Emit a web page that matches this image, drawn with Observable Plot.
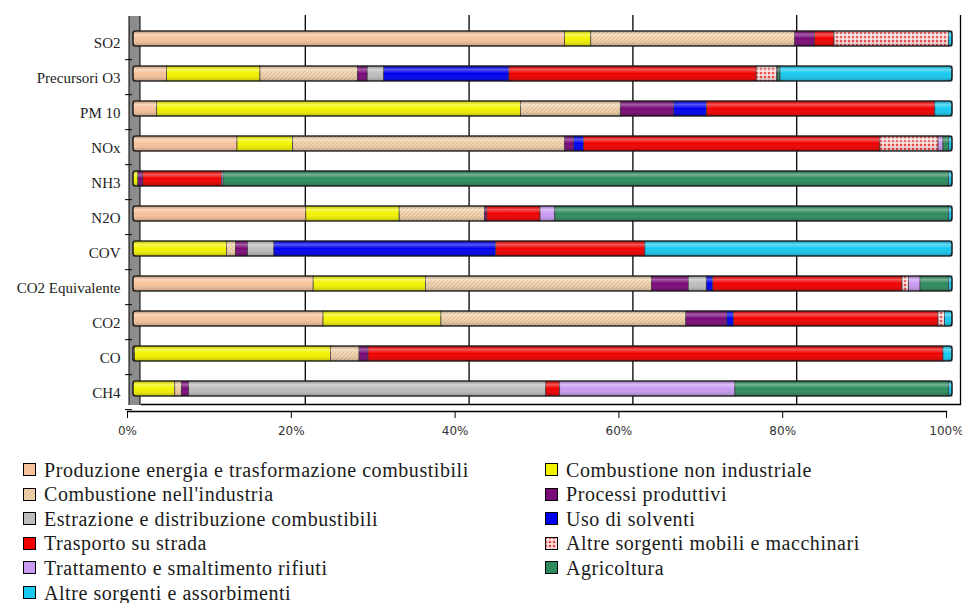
<!DOCTYPE html>
<html><head><meta charset="utf-8">
<script src="https://cdn.jsdelivr.net/npm/d3@7"></script>
<script src="https://cdn.jsdelivr.net/npm/@observablehq/plot@0.6"></script>
<style>
body{margin:0;background:#fff;}
#chart{height:445px;}
#legend{position:relative;height:158px;font-family:"Liberation Serif",serif;font-size:20px;letter-spacing:0.55px;color:#1a1a1a}
.item{position:absolute;display:flex;align-items:center;white-space:nowrap;transform:translateY(-50%);line-height:22px}
.item svg{margin-right:7px}
</style></head><body>
<svg style="position:absolute;width:0;height:0" aria-hidden="true">
<defs>
<pattern id="patInd" width="4" height="4" patternUnits="userSpaceOnUse">
<rect width="4" height="4" fill="#F0D2AC"/>
<path d="M0,4 L4,0" stroke="#D7B48A" stroke-width="0.8"/>
</pattern>
<pattern id="patMob" width="4" height="4" patternUnits="userSpaceOnUse">
<rect width="4" height="4" fill="#F7C6C6"/>
<rect width="2" height="2" fill="#E84848"/>
<rect x="2" y="2" width="2" height="2" fill="#FBE2E2"/>
</pattern>
<linearGradient id="shade" x1="0" y1="0" x2="0" y2="1">
<stop offset="0" stop-color="#000" stop-opacity="0.12"/>
<stop offset="0.22" stop-color="#fff" stop-opacity="0.35"/>
<stop offset="0.5" stop-color="#fff" stop-opacity="0"/>
<stop offset="1" stop-color="#000" stop-opacity="0.22"/>
</linearGradient>
</defs>
</svg>
<div id="chart"></div><div id="legend"></div>
<script>
const categories = ["SO2","Precursori O3","PM 10","NOx","NH3","N2O","COV","CO2 Equivalente","CO2","CO","CH4"];
const sourceNames = [
  "Produzione energia e trasformazione combustibili",
  "Combustione non industriale",
  "Combustione nell'industria",
  "Processi produttivi",
  "Estrazione e distribuzione combustibili",
  "Uso di solventi",
  "Trasporto su strada",
  "Altre sorgenti mobili e macchinari",
  "Trattamento e smaltimento rifiuti",
  "Agricoltura",
  "Altre sorgenti e assorbimenti"
];
const sourceFills = ["#F6C29B","#F2F200","url(#patInd)","#7A0A78","#BDBDBD","#0000F0","#F00000","url(#patMob)","#C99BF2","#2E8B5E","#18C8F0"];
const produzioneEnergia        = [52.7, 4.1, 2.9, 12.7, 0,    21.1, 0,    22.0, 23.2, 0.2,  0];
const combustioneNonIndustriale= [3.2, 11.4, 44.4, 6.8, 0.6,  11.4, 11.4, 13.7, 14.4, 23.9, 5.1];
const combustioneIndustria     = [24.9,11.9, 12.2, 33.2, 0,   10.4, 1.1,  27.6, 29.9, 3.5,  0.8];
const processiProduttivi       = [2.4, 1.2,  6.5,  1.1, 0.6,  0.3,  1.5,  4.5,  5.0,  1.1,  0.9];
const estrazioneDistribuzione  = [0,   2.0,  0,    0,   0,    0,    3.2,  2.2,  0,    0,    43.6];
const usoSolventi              = [0,   15.3, 4.0,  1.2, 0,    0,    27.1, 0.8,  0.8,  0,    0];
const trasportoStrada          = [2.4, 30.2, 27.9, 36.2, 9.6, 6.5,  18.2, 23.1, 25.0, 70.2, 1.7];
const altreSorgentiMobili      = [14.0, 2.5, 0,    7.1, 0,    0,    0,    0.8,  0.8,  0,    0];
const trattamentoRifiuti       = [0,   0.1,  0,    0.6, 0.2,  1.8,  0,    1.4,  0,    0,    21.4];
const agricoltura              = [0,   0.3,  0,    0.7, 88.6, 48.1, 0,    3.5,  0,    0,    26.1];
const altreSorgenti            = [0.4, 21.0, 2.1,  0.4, 0.4,  0.4,  37.5, 0.4,  0.9,  1.1,  0.4];
const xTicks = [0, 0.2, 0.4, 0.6, 0.8, 1];

const seriesValues = [produzioneEnergia, combustioneNonIndustriale, combustioneIndustria, processiProduttivi,
  estrazioneDistribuzione, usoSolventi, trasportoStrada, altreSorgentiMobili, trattamentoRifiuti, agricoltura, altreSorgenti];

const rows = seriesValues.flatMap((vals, i) => categories.map((c, j) => ({
  category: c, source: sourceNames[i], value: vals[j], fill: sourceFills[i]
})));

const chart = Plot.plot({
  width: 962, height: 445,
  marginTop: 19, marginBottom: 37, marginLeft: 133, marginRight: 10,
  x: {domain: [0, 1], label: null},
  y: {domain: categories, paddingInner: 0.57, paddingOuter: 0.285, label: null},
  color: {type: "identity"},
  style: {background: "white", overflow: "visible"},
  marks: [
    Plot.ruleX([0], {stroke: "#000", strokeWidth: 12, dx: 1, dy: -3}),
    Plot.ruleX([0], {stroke: "#8c8c8c", strokeWidth: 10, dx: 1, dy: -3}),
    Plot.ruleX(xTicks.slice(1), {stroke: "#000", strokeWidth: 1.3, dx: 8, dy: -4}),
    Plot.frame({anchor: "bottom", stroke: "#000", strokeWidth: 1.3, dx: 8, dy: -4}),
    Plot.frame({anchor: "bottom", stroke: "#000", strokeWidth: 1.3, dx: -6, dy: 3}),
    Plot.barX(rows, Plot.stackX({x: "value", y: "category", z: "source", fill: "fill", offset: "normalize",
      stroke: "#333", strokeWidth: 0.7})),
    Plot.barX(categories, {x1: 0, x2: 1, y: d => d, fill: "url(#shade)", stroke: "#111", strokeWidth: 1.2, rx: 3}),
    Plot.axisY({tickSize: 0, tickPadding: 13, dy: 4, fontSize: 15, fontFamily: "Liberation Serif", fill: "#222",
      style: "letter-spacing:0.75px"}),
    Plot.axisY({text: null, tickSize: 7, dx: -1, dy: 35.3 / 2 + 3, stroke: "#000"}),
    Plot.axisX({ticks: xTicks, tickFormat: d => Math.round(d * 100) + "%", dx: -6, dy: 3, tickSize: 7,
      tickPadding: 8, fontSize: 12, fontFamily: "DejaVu Sans", fill: "#333"})
  ]
});
document.getElementById("chart").append(chart);

const legend = document.getElementById("legend");
sourceNames.forEach((name, i) => {
  const col = i % 2, row = Math.floor(i / 2);
  const el = document.createElement("div");
  el.className = "item";
  el.style.left = (col ? 545 : 23) + "px";
  el.style.top = (24.5 + row * 24.6) + "px";
  el.innerHTML = `<svg width="14" height="13"><rect x="0.5" y="0.5" width="12" height="12" fill="${sourceFills[i]}" stroke="#000"/></svg><span>${name}</span>`;
  legend.append(el);
});
</script>
</body></html>
